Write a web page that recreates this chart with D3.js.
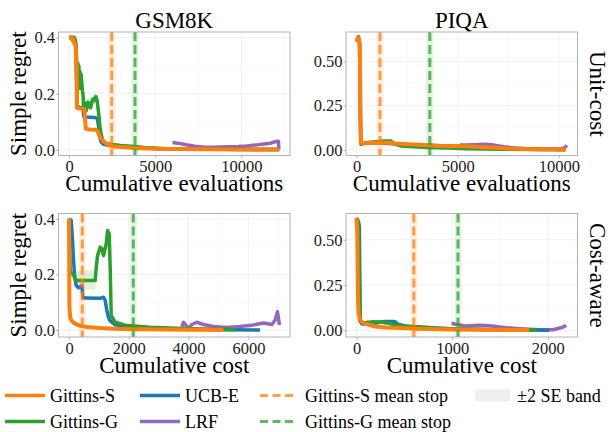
<!DOCTYPE html>
<html>
<head>
<meta charset="utf-8">
<title>Simple regret vs cumulative cost</title>
<script src="https://cdn.jsdelivr.net/npm/d3@7"></script>
<style>
    body { margin:0; background:#fff; }
    svg { display:block; font-family:"Liberation Serif", "Times New Roman", serif; }
    .frame { fill:none; stroke:#b3b3b3; stroke-width:1; }
    .grid-major { stroke:#ececec; stroke-width:0.8; }
    .grid-minor { stroke:#f4f4f4; stroke-width:0.6; }
    .tick text { font-size:16.5px; fill:#1a1a1a; font-family:"Liberation Serif", serif; }
    .tick line { stroke:#b3b3b3; }
    .label { font-size:23px; fill:#000; }
    .legend text { font-size:18px; fill:#000; }
</style>
</head>
<body>
<svg id="chart" width="610" height="432"></svg>
<script>
// ---- data: [x, simple regret] ----
// GSM8K, unit-cost
const gsmUnitGittinsS = [[0,0.40],[150,0.40],[200,0.39],[260,0.395],[300,0.38],[360,0.375],[400,0.36],[440,0.30],[460,0.15],[520,0.148],[700,0.147],[900,0.145],[940,0.10],[980,0.075],[1200,0.073],[1500,0.072],[1620,0.07],[1700,0.06],[1800,0.045],[1950,0.033],[2100,0.025],[2300,0.018],[2500,0.013],[3000,0.010],[3800,0.007],[5000,0.004],[6500,0.003],[8000,0.002],[10000,0.0015],[12200,0.001]];
const gsmUnitUcbE = [[0,0.40],[300,0.40],[400,0.37],[450,0.2],[480,0.155],[600,0.152],[780,0.15],[830,0.14],[850,0.12],[900,0.117],[1200,0.116],[1500,0.115],[1650,0.113],[1700,0.09],[1780,0.05],[1850,0.03],[2000,0.02],[2500,0.014],[3500,0.009],[5000,0.005],[7000,0.003],[9000,0.002],[12200,0.001]];
const gsmUnitGittinsG = [[0,0.40],[300,0.40],[380,0.39],[420,0.36],[450,0.25],[470,0.16],[490,0.22],[510,0.31],[540,0.29],[570,0.30],[600,0.25],[630,0.28],[660,0.22],[700,0.27],[740,0.24],[780,0.21],[820,0.19],[850,0.14],[880,0.17],[920,0.15],[960,0.16],[1000,0.14],[1050,0.155],[1100,0.17],[1150,0.155],[1200,0.165],[1260,0.15],[1320,0.17],[1380,0.18],[1440,0.175],[1500,0.185],[1560,0.19],[1620,0.18],[1680,0.15],[1740,0.12],[1800,0.08],[1880,0.05],[1960,0.035],[2100,0.025],[2400,0.02],[3000,0.016],[3800,0.012],[4500,0.008],[5500,0.005],[7000,0.003],[9000,0.002],[12200,0.001]];
const gsmUnitLrf = [[6000,0.026],[6300,0.024],[6800,0.018],[7300,0.013],[7800,0.010],[8300,0.009],[8800,0.010],[9300,0.011],[9800,0.012],[10300,0.014],[10800,0.017],[11300,0.021],[11700,0.024],[12000,0.03],[12150,0.031],[12180,0.003]];
const gsmUnitGreenBand = [[500,0.26,0.32],[600,0.22,0.29],[700,0.22,0.29],[820,0.15,0.22],[1000,0.13,0.18],[1300,0.15,0.19],[1560,0.17,0.21],[1700,0.13,0.17],[1800,0.07,0.09]];
const gsmUnitStops = [2478, 3830];

// PIQA, unit-cost
const piqaUnitGittinsS = [[0,0.61],[40,0.62],[80,0.635],[120,0.62],[160,0.6],[190,0.3],[210,0.04],[400,0.038],[800,0.04],[1200,0.04],[1600,0.04],[1900,0.036],[2500,0.032],[3400,0.028],[4000,0.024],[5400,0.02],[6500,0.013],[7900,0.006],[9000,0.004],[10350,0.002]];
const piqaUnitUcbE = [[0,0.61],[100,0.63],[150,0.6],[185,0.2],[210,0.04],[600,0.04],[1200,0.039],[1800,0.035],[2500,0.03],[3500,0.026],[5000,0.02],[6500,0.012],[8000,0.006],[10300,0.002]];
const piqaUnitGittinsG = [[0,0.62],[60,0.63],[100,0.64],[150,0.6],[190,0.2],[220,0.03],[300,0.035],[500,0.04],[800,0.045],[1100,0.048],[1400,0.05],[1700,0.05],[1850,0.035],[2200,0.022],[2800,0.018],[3500,0.014],[4500,0.01],[5500,0.007],[7000,0.004],[8500,0.002],[10300,0.001]];
const piqaUnitLrf = [[5100,0.027],[5500,0.028],[6000,0.03],[6400,0.032],[6800,0.027],[7300,0.018],[7900,0.01],[8500,0.006],[9200,0.004],[9800,0.004],[10200,0.006],[10350,0.02],[10400,0.025]];
const piqaUnitStops = [1157, 3622];

// GSM8K, cost-aware
const gsmCostGittinsS = [[0,0.40],[5,0.30],[8,0.15],[15,0.08],[40,0.045],[80,0.035],[150,0.027],[250,0.02],[380,0.015],[600,0.011],[1000,0.007],[1500,0.005],[2200,0.003],[3200,0.002],[4200,0.0015],[5165,0.001]];
const gsmCostUcbE = [[0,0.40],[73,0.394],[118,0.322],[151,0.25],[185,0.196],[240,0.16],[318,0.152],[374,0.155],[430,0.16],[463,0.118],[541,0.115],[1043,0.114],[1154,0.118],[1210,0.106],[1266,0.07],[1322,0.045],[1377,0.033],[1545,0.019],[2157,0.009],[3828,0.003],[6391,0.0]];
const gsmCostGittinsG = [[0,0.40],[20,0.3],[40,0.21],[63,0.207],[151,0.198],[207,0.183],[263,0.178],[876,0.178],[910,0.226],[955,0.268],[1043,0.298],[1099,0.292],[1154,0.268],[1244,0.31],[1289,0.358],[1344,0.346],[1377,0.226],[1411,0.052],[1545,0.028],[1935,0.016],[2715,0.01],[3830,0.006],[5557,0.001]];
const gsmCostLrf = [[3775,0.0125],[3831,0.028],[3886,0.02],[3998,0.0055],[4109,0.02],[4276,0.028],[4499,0.02],[4833,0.0125],[5279,0.009],[5725,0.0125],[6170,0.0185],[6505,0.025],[6784,0.02],[6895,0.036],[6973,0.066],[7040,0.0185]];
const gsmCostGreenBand = [[63,0.19,0.22],[207,0.16,0.215],[263,0.145,0.215],[876,0.145,0.215],[910,0.2,0.25]];
const gsmCostLrfBand = [[6895,0.02,0.05],[6973,0.04,0.09],[7040,0.005,0.03]];
const gsmCostStops = [444, 2150];

// PIQA, cost-aware
const piqaCostGittinsS = [[0,0.62],[8,0.533],[15,0.165],[22,0.092],[36,0.059],[71,0.04],[123,0.033],[192,0.022],[314,0.017],[452,0.013],[626,0.01],[972,0.006],[1319,0.004],[1805,0.002]];
const piqaCostUcbE = [[0,0.62],[20,0.6],[30,0.57],[34,0.3],[38,0.05],[60,0.035],[100,0.036],[150,0.035],[250,0.045],[300,0.05],[400,0.05],[430,0.035],[600,0.015],[1000,0.008],[1500,0.004],[2015,0.001]];
const piqaCostGittinsG = [[0,0.62],[20,0.6],[30,0.3],[40,0.05],[70,0.04],[120,0.045],[180,0.048],[250,0.047],[330,0.04],[400,0.032],[500,0.025],[650,0.02],[800,0.015],[1000,0.01],[1300,0.006],[1600,0.003],[1880,0.001]];
const piqaCostLrf = [[993,0.04],[1045,0.033],[1150,0.024],[1289,0.029],[1393,0.026],[1566,0.015],[1705,0.01],[1913,0.004],[2052,0.004],[2156,0.018],[2191,0.028]];
const piqaCostStops = [599, 1061];

// ---- names, colours, ticks ----
const datasets = ['GSM8K', 'PIQA'];
const regimes = ['Unit-cost', 'Cost-aware'];
const xTitles = ['Cumulative evaluations', 'Cumulative cost'];
const seriesNames = ['LRF', 'UCB-E', 'Gittins-G', 'Gittins-S'];   // drawing order
const seriesColors = { 'Gittins-S':'#ff7f0e', 'UCB-E':'#1f77b4', 'Gittins-G':'#2ca02c', 'LRF':'#9467bd' };
const stopNames = ['Gittins-S', 'Gittins-G'];
const xTicksGsmUnit = [0, 5000, 10000];
const xTicksPiqaUnit = [0, 5000, 10000];
const xTicksGsmCost = [0, 2000, 4000, 6000];
const xTicksPiqaCost = [0, 1000, 2000];
const yTicksGsm = [0, 0.2, 0.4];
const yTicksPiqa = [0, 0.25, 0.5];

// panel table built from the arrays above
const panels = [
    { row:0, col:0, xDomain:[-610, 12825], yDomain:[-0.02, 0.42], xTicks:xTicksGsmUnit, yTicks:yTicksGsm, yFmt:'.1f',
      series:{ 'Gittins-S':gsmUnitGittinsS, 'UCB-E':gsmUnitUcbE, 'Gittins-G':gsmUnitGittinsG, 'LRF':gsmUnitLrf },
      bands:[['Gittins-G', gsmUnitGreenBand]], stops:gsmUnitStops },
    { row:0, col:1, xDomain:[-520, 10920], yDomain:[-0.0317, 0.6657], xTicks:xTicksPiqaUnit, yTicks:yTicksPiqa, yFmt:'.2f',
      series:{ 'Gittins-S':piqaUnitGittinsS, 'UCB-E':piqaUnitUcbE, 'Gittins-G':piqaUnitGittinsG, 'LRF':piqaUnitLrf },
      bands:[], stops:piqaUnitStops },
    { row:1, col:0, xDomain:[-352, 7392], yDomain:[-0.025, 0.419], xTicks:xTicksGsmCost, yTicks:yTicksGsm, yFmt:'.1f',
      series:{ 'Gittins-S':gsmCostGittinsS, 'UCB-E':gsmCostUcbE, 'Gittins-G':gsmCostGittinsG, 'LRF':gsmCostLrf },
      bands:[['Gittins-G', gsmCostGreenBand], ['LRF', gsmCostLrfBand]], stops:gsmCostStops },
    { row:1, col:1, xDomain:[-110, 2310], yDomain:[-0.036, 0.645], xTicks:xTicksPiqaCost, yTicks:yTicksPiqa, yFmt:'.2f',
      series:{ 'Gittins-S':piqaCostGittinsS, 'UCB-E':piqaCostUcbE, 'Gittins-G':piqaCostGittinsG, 'LRF':piqaCostLrf },
      bands:[], stops:piqaCostStops }
];

const svg = d3.select('#chart');
const colLeft = [58.5, 346];
const rowTop = [32, 213.5];
const panelW = 231.5, panelH = 123.5;

panels.forEach((p, i) => {
    const g = svg.append('g').attr('transform', `translate(${colLeft[p.col]},${rowTop[p.row]})`);
    const x = d3.scaleLinear().domain(p.xDomain).range([0, panelW]);
    const y = d3.scaleLinear().domain(p.yDomain).range([panelH, 0]);

    // light grid, major at the ticks and minor half way between
    const xStep = p.xTicks[1] - p.xTicks[0];
    const yStep = p.yTicks[1] - p.yTicks[0];
    const xMinor = d3.range(p.xTicks[0] - xStep / 2, p.xDomain[1], xStep).filter(v => v > p.xDomain[0]);
    const yMinor = d3.range(p.yTicks[0] - yStep / 2, p.yDomain[1], yStep).filter(v => v > p.yDomain[0]);
    g.selectAll('.xm').data(xMinor).enter().append('line').attr('class', 'grid-minor')
        .attr('x1', d => x(d)).attr('x2', d => x(d)).attr('y1', 0).attr('y2', panelH);
    g.selectAll('.ym').data(yMinor).enter().append('line').attr('class', 'grid-minor')
        .attr('y1', d => y(d)).attr('y2', d => y(d)).attr('x1', 0).attr('x2', panelW);
    g.selectAll('.xg').data(p.xTicks).enter().append('line').attr('class', 'grid-major')
        .attr('x1', d => x(d)).attr('x2', d => x(d)).attr('y1', 0).attr('y2', panelH);
    g.selectAll('.yg').data(p.yTicks).enter().append('line').attr('class', 'grid-major')
        .attr('y1', d => y(d)).attr('y2', d => y(d)).attr('x1', 0).attr('x2', panelW);

    // clip everything to the panel
    svg.append('clipPath').attr('id', 'clip' + i)
        .append('rect').attr('width', panelW).attr('height', panelH);
    const plot = g.append('g').attr('clip-path', `url(#clip${i})`);

    // ±2 SE bands
    const area = d3.area().x(d => x(d[0])).y0(d => y(d[1])).y1(d => y(d[2]));
    p.bands.forEach(([name, band]) => {
        plot.append('path').attr('d', area(band))
            .attr('fill', seriesColors[name]).attr('opacity', 0.15);
    });

    // regret curves
    const line = d3.line().x(d => x(d[0])).y(d => y(d[1]));
    seriesNames.forEach(name => {
        plot.append('path').attr('d', line(p.series[name]))
            .attr('fill', 'none')
            .attr('stroke', seriesColors[name])
            .attr('stroke-width', name === 'Gittins-S' ? 4 : 3.5)
            .attr('stroke-linejoin', 'round');
    });

    // mean stopping points
    p.stops.forEach((s, k) => {
        const c = seriesColors[stopNames[k]];
        plot.append('line').attr('x1', x(s)).attr('x2', x(s)).attr('y1', 0).attr('y2', panelH)
            .attr('stroke', c).attr('stroke-opacity', 0.12).attr('stroke-width', 7);
        plot.append('line').attr('x1', x(s)).attr('x2', x(s)).attr('y1', 0).attr('y2', panelH)
            .attr('stroke', c).attr('stroke-opacity', 0.75).attr('stroke-width', 3)
            .attr('stroke-dasharray', '9,4');
    });

    g.append('rect').attr('class', 'frame').attr('width', panelW).attr('height', panelH);

    // axes
    const xAxis = d3.axisBottom(x).tickValues(p.xTicks).tickSize(2.5).tickPadding(2.3).tickFormat(d3.format('d'));
    g.append('g').attr('transform', `translate(0,${panelH})`).call(xAxis).call(a => a.select('.domain').remove());
    const yAxis = d3.axisLeft(y).tickValues(p.yTicks).tickSize(2.5).tickPadding(1).tickFormat(d3.format(p.yFmt));
    g.append('g').call(yAxis).call(a => a.select('.domain').remove());

    // x axis title
    g.append('text').attr('class', 'label').attr('text-anchor', 'middle')
        .attr('x', panelW / 2).attr('y', panelH + 35.5).text(xTitles[p.row]);
});

// column titles, y titles, row strips
datasets.forEach((d, c) => {
    svg.append('text').attr('class', 'label').attr('text-anchor', 'middle')
        .attr('x', colLeft[c] + panelW / 2).attr('y', 28).text(d);
});
regimes.forEach((r, k) => {
    const cy = rowTop[k] + panelH / 2;
    svg.append('text').attr('class', 'label').attr('text-anchor', 'middle')
        .attr('transform', `translate(26,${cy}) rotate(-90)`).text('Simple regret');
    svg.append('text').attr('class', 'label').attr('text-anchor', 'middle')
        .attr('transform', `translate(590,${cy}) rotate(90)`).text(r);
});

// legend
const legendItems = [
    { name:'Gittins-S', kind:'line', x:5, row:0 },
    { name:'UCB-E', kind:'line', x:140, row:0 },
    { name:'Gittins-S mean stop', kind:'dash', x:260, row:0, color:seriesColors['Gittins-S'] },
    { name:'±2 SE band', kind:'box', x:475, row:0 },
    { name:'Gittins-G', kind:'line', x:5, row:1 },
    { name:'LRF', kind:'line', x:140, row:1 },
    { name:'Gittins-G mean stop', kind:'dash', x:260, row:1, color:seriesColors['Gittins-G'] }
];
const legendRowY = [395.5, 421.5];
const legend = svg.append('g').attr('class', 'legend');
legendItems.forEach(it => {
    const cy = legendRowY[it.row];
    if (it.kind === 'line') {
        legend.append('line').attr('x1', it.x).attr('x2', it.x + 40).attr('y1', cy).attr('y2', cy)
            .attr('stroke', seriesColors[it.name]).attr('stroke-width', 3.5);
    } else if (it.kind === 'dash') {
        legend.append('line').attr('x1', it.x).attr('x2', it.x + 37).attr('y1', cy).attr('y2', cy)
            .attr('stroke', it.color).attr('stroke-opacity', 0.75).attr('stroke-width', 3)
            .attr('stroke-dasharray', '8,4.5');
    } else {
        legend.append('rect').attr('x', it.x).attr('y', cy - 6).attr('width', 35).attr('height', 12)
            .attr('fill', '#efefef');
    }
    const tx = it.kind === 'box' ? it.x + 42 : (it.kind === 'dash' ? it.x + 45 : it.x + 45);
    legend.append('text').attr('x', tx).attr('y', cy + 6.3).text(it.name);
});
</script>
</body>
</html>
